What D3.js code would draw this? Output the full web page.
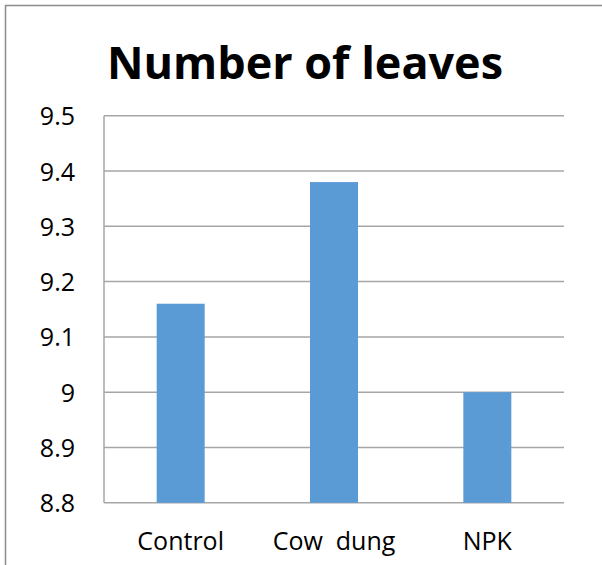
<!DOCTYPE html>
<html>
<head>
<meta charset="utf-8">
<script src="https://cdn.jsdelivr.net/npm/d3@7"></script>
<style>
  html, body { margin: 0; padding: 0; background: #fff; }
  svg { display: block; }
  text { font-family: "Open Sans", sans-serif; fill: #000; }
</style>
</head>
<body>
<svg id="chart" width="602" height="565"></svg>
<script>
// Average number of leaves per treatment
const categories = ["Control", "Cow  dung", "NPK"];
const values = [9.16, 9.38, 9.0];
const yTicks = [8.8, 8.9, 9.0, 9.1, 9.2, 9.3, 9.4, 9.5];
const title = "Number of leaves";

const W = 602, H = 565;
const plot = { left: 104, right: 564, top: 115.7, bottom: 502.8 };

const svg = d3.select("#chart");

// outer frame (top and left edges)
svg.append("path")
  .attr("d", `M5.5,${H} V5.5 H${W}`)
  .attr("fill", "none")
  .attr("stroke", "#8c8c8c")
  .attr("stroke-width", 1.5);

const x = d3.scaleBand()
  .domain(categories)
  .range([plot.left, plot.right])
  .paddingInner(0.687)
  .paddingOuter(0.3435);

const y = d3.scaleLinear()
  .domain([8.8, 9.5])
  .range([plot.bottom, plot.top]);

// horizontal gridlines
svg.append("g")
  .selectAll("line")
  .data(yTicks)
  .join("line")
  .attr("x1", plot.left)
  .attr("x2", plot.right)
  .attr("y1", d => y(d))
  .attr("y2", d => y(d))
  .attr("stroke", "#a6a6a6")
  .attr("stroke-width", 1.5);

// y axis line
svg.append("line")
  .attr("x1", plot.left).attr("x2", plot.left)
  .attr("y1", plot.top).attr("y2", plot.bottom)
  .attr("stroke", "#a6a6a6")
  .attr("stroke-width", 1.5);

// y tick labels
const yAxis = d3.axisLeft(y)
  .tickValues(yTicks)
  .tickFormat(d => d3.format("")(+d.toFixed(1)))
  .tickSize(0)
  .tickPadding(29);

svg.append("g")
  .attr("transform", `translate(${plot.left},0)`)
  .call(yAxis)
  .call(g => g.select(".domain").remove())
  .call(g => g.selectAll("text")
    .attr("font-family", "Open Sans, sans-serif")
    .attr("font-size", 25)
    .attr("fill", "#000")
    .attr("dy", "0.36em"));

// bars
svg.append("g")
  .selectAll("rect")
  .data(values)
  .join("rect")
  .attr("x", (d, i) => x(categories[i]))
  .attr("width", x.bandwidth())
  .attr("y", d => y(d))
  .attr("height", d => y(8.8) - y(d))
  .attr("fill", "#5b9bd5");

// category labels
svg.append("g")
  .selectAll("text")
  .data(categories)
  .join("text")
  .attr("x", d => x(d) + x.bandwidth() / 2)
  .attr("y", 550)
  .attr("text-anchor", "middle")
  .attr("font-size", 25)
  .attr("xml:space", "preserve")
  .style("white-space", "pre")
  .text(d => d);

// title
svg.append("text")
  .attr("x", 305)
  .attr("y", 79)
  .attr("text-anchor", "middle")
  .attr("font-size", 44)
  .attr("font-weight", "bold")
  .attr("textLength", 396)
  .attr("lengthAdjust", "spacingAndGlyphs")
  .text(title);
</script>
</body>
</html>
